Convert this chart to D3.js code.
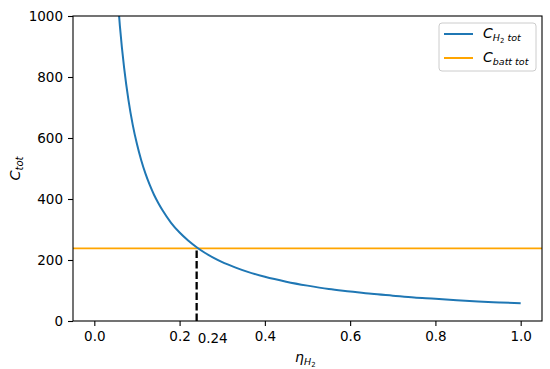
<!DOCTYPE html>
<html>
<head>
<meta charset="utf-8">
<script src="https://cdn.jsdelivr.net/npm/d3@7"></script>
<style>
  body { margin: 0; background: #fff; }
  text { font-family: "DejaVu Sans", sans-serif; }
</style>
</head>
<body>
<div id="chart"></div>
<script>
// values
const eta = [0.055, 0.06, 0.07, 0.08, 0.09, 0.10, 0.11, 0.12, 0.13, 0.14, 0.15, 0.16, 0.18, 0.20, 0.22, 0.24,
    0.26, 0.28, 0.30, 0.33, 0.36, 0.40, 0.45, 0.50, 0.55, 0.60, 0.65, 0.70, 0.75, 0.80, 0.85, 0.90, 0.95, 1.00];
const cH2 = [1055, 967, 829, 725, 644, 580, 527, 483, 446, 414, 387, 363, 322, 290, 264, 242,
    223, 207, 193, 176, 161, 145, 129, 116, 105, 97, 89, 83, 77, 73, 68, 64, 61, 58];
const cBatt = 238;
const etaCross = 0.24;
const xTicks = [0.0, 0.2, 0.4, 0.6, 0.8, 1.0];
const yTicks = [0, 200, 400, 600, 800, 1000];

const W = 550, H = 369;
const margin = { left: 73, top: 16, right: 8, bottom: 48 };
const width = W - margin.left - margin.right;
const height = H - margin.top - margin.bottom;

const svg = d3.select("#chart").append("svg")
    .attr("width", W)
    .attr("height", H);

const g = svg.append("g")
    .attr("transform", `translate(${margin.left}, ${margin.top})`);

const x = d3.scaleLinear().domain([-0.05, 1.05]).range([0, width]);
const y = d3.scaleLinear().domain([0, 1000]).range([height, 0]);

g.append("clipPath").attr("id", "clip")
    .append("rect").attr("width", width).attr("height", height);

const plot = g.append("g").attr("clip-path", "url(#clip)");

// horizontal battery cost line
plot.append("line")
    .attr("x1", 0).attr("x2", width)
    .attr("y1", y(cBatt)).attr("y2", y(cBatt))
    .style("stroke", "#ffa500")
    .style("stroke-width", 1.8);

// dashed marker at the crossing
plot.append("line")
    .attr("x1", x(etaCross)).attr("x2", x(etaCross))
    .attr("y1", y(0)).attr("y2", y(cBatt))
    .style("stroke", "black")
    .style("stroke-width", 2.3)
    .style("stroke-dasharray", "7.5,3");

const data = eta.map((e, i) => [e, cH2[i]]);
plot.append("path")
    .datum(data)
    .attr("d", d3.line().x(d => x(d[0])).y(d => y(d[1])).curve(d3.curveMonotoneX))
    .style("fill", "none")
    .style("stroke", "#1f77b4")
    .style("stroke-width", 2);

// axes
const xAxis = g.append("g")
    .attr("transform", `translate(0, ${height})`)
    .call(d3.axisBottom(x).tickValues(xTicks).tickFormat(d3.format(".1f")).tickSize(5).tickSizeOuter(0).tickPadding(5));
const yAxis = g.append("g")
    .call(d3.axisLeft(y).tickValues(yTicks).tickFormat(d3.format("d")).tickSize(5).tickSizeOuter(0).tickPadding(5));

[xAxis, yAxis].forEach(a => {
    a.select(".domain").remove();
    a.selectAll("line").style("stroke", "black").style("stroke-width", 1.1);
    a.selectAll("text").style("font-size", "13.5px").style("fill", "black")
        .style("font-family", "DejaVu Sans, sans-serif");
});

// extra label for the crossing
g.append("text")
    .attr("x", x(etaCross) + 1)
    .attr("y", height + 22)
    .style("font-size", "13.5px")
    .text("0.24");

// frame
g.append("rect")
    .attr("width", width).attr("height", height)
    .style("fill", "none")
    .style("stroke", "black")
    .style("stroke-width", 1.1);

// axis titles
const xl = svg.append("text")
    .attr("x", margin.left + x(0.495))
    .attr("y", 362)
    .attr("text-anchor", "middle")
    .style("font-size", "14px");
xl.append("tspan").style("font-style", "italic").text("η");
xl.append("tspan").attr("dy", 3).style("font-size", "9.5px").style("font-style", "italic").text("H");
xl.append("tspan").attr("dy", 2).style("font-size", "7px").text("2");

const yl = svg.append("text")
    .attr("transform", `translate(20, ${margin.top + height / 2}) rotate(-90)`)
    .attr("text-anchor", "middle")
    .style("font-size", "14.5px");
yl.append("tspan").style("font-style", "italic").text("C");
yl.append("tspan").attr("dy", 3).style("font-size", "10px").style("font-style", "italic").text("tot");

// legend
const lg = svg.append("g").attr("transform", "translate(439, 23)");
lg.append("rect")
    .attr("width", 97).attr("height", 48).attr("rx", 3)
    .style("fill", "white").style("fill-opacity", 0.8)
    .style("stroke", "#cccccc").style("stroke-width", 1);

const legendItems = [
    { color: "#1f77b4", sub: [["H", 0], ["2", 2, "7px"], [" tot", -2]] },
    { color: "#ffa500", sub: [["batt tot", 0]] }
];
legendItems.forEach((d, i) => {
    const yy = 11 + i * 24;
    lg.append("line")
        .attr("x1", 5).attr("x2", 34).attr("y1", yy).attr("y2", yy)
        .style("stroke", d.color).style("stroke-width", 2);
    const t = lg.append("text")
        .attr("x", 44).attr("y", yy + 4)
        .style("font-size", "14px");
    t.append("tspan").style("font-style", "italic").text("C");
    let first = true;
    d.sub.forEach(s => {
        const ts = t.append("tspan")
            .attr("dy", (first ? 3 : 0) + s[1])
            .style("font-size", s[2] || "9.5px")
            .style("font-style", s[0] === "2" ? "normal" : "italic")
            .text(s[0]);
        if (s[0].startsWith(" ")) ts.attr("xml:space", "preserve");
        first = false;
    });
});
</script>
</body>
</html>
